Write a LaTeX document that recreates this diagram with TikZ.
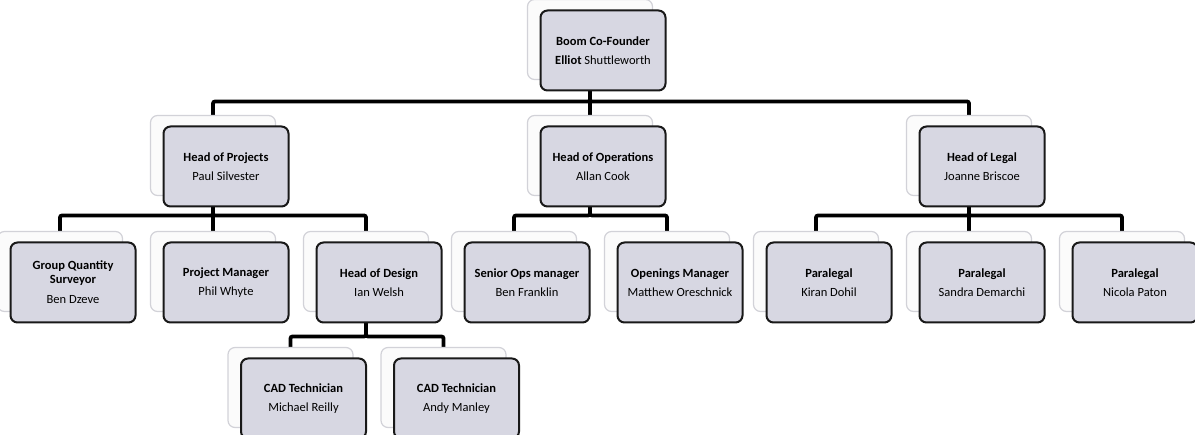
\documentclass[tikz,border=0pt]{standalone}
\usepackage{fontspec}
\setmainfont{Carlito}
\usepackage{xcolor}
\usetikzlibrary{positioning, calc, backgrounds, shadows}
\definecolor{cardfill}{RGB}{215, 215, 226}
\definecolor{cardedge}{RGB}{25, 25, 25}
\definecolor{ghostedge}{RGB}{210, 210, 216}
\definecolor{ghostfill}{RGB}{251, 251, 251}

\begin{document}
\begin{tikzpicture}[
    x=1pt, y=1pt,
    node distance=34pt and 26pt,
    card/.style={rectangle, rounded corners=7pt, draw=cardedge, line width=2pt, fill=cardfill, minimum width=125pt, minimum height=80pt, align=center, font=\fontsize{12.5}{14}\selectfont,
      copy shadow={shadow xshift=-13pt, shadow yshift=11pt, fill=ghostfill, draw=ghostedge, line width=1.2pt}},
    link/.style={line width=3.8pt, rounded corners=2pt, draw=black}
]
\useasboundingbox (0,0) rectangle (1195,-435);

% Founder
\node[card] (founder) at (603,-50.5) {\textbf{Boom Co-Founder}\\[5pt]\textbf{Elliot} Shuttleworth};

% Heads
\node[card, below=34pt of founder] (ops) {\textbf{Head of Operations}\\[5pt]Allan Cook};
\node[card, left=250pt of ops] (proj) {\textbf{Head of Projects}\\[5pt]Paul Silvester};
\node[card, right=252pt of ops] (legal) {\textbf{Head of Legal}\\[5pt]Joanne Briscoe};

% Projects team
\node[card, below=of proj] (pm) {\textbf{Project Manager}\\[5pt]Phil Whyte};
\node[card, left=of pm] (gqs) {\textbf{Group Quantity}\\\textbf{Surveyor}\\[6pt]Ben Dzeve};
\node[card, right=of pm] (design) {\textbf{Head of Design}\\[5pt]Ian Welsh};

% Operations team
\node[card, below=of ops, xshift=-76pt] (senops) {\textbf{Senior Ops manager}\\[5pt]Ben Franklin};
\node[card, right=of senops] (openings) {\textbf{Openings Manager}\\[5pt]Matthew Oreschnick};

% Legal team
\node[card, below=of legal] (para2) {\textbf{Paralegal}\\[5pt]Sandra Demarchi};
\node[card, left=of para2] (para1) {\textbf{Paralegal}\\[5pt]Kiran Dohil};
\node[card, right=of para2] (para3) {\textbf{Paralegal}\\[5pt]Nicola Paton};

% Design team
\node[card, below=of design, xshift=-75.5pt] (cad1) {\textbf{CAD Technician}\\[5pt]Michael Reilly};
\node[card, right=of cad1] (cad2) {\textbf{CAD Technician}\\[5pt]Andy Manley};

% Connectors
\begin{pgfonlayer}{background}
\foreach \p/\c/\d in {founder/proj/10, founder/ops/10, founder/legal/10,
    proj/gqs/8, proj/pm/8, proj/design/8,
    ops/senops/8, ops/openings/8,
    legal/para1/8, legal/para2/8, legal/para3/8,
    design/cad1/13, design/cad2/13}
  \draw[link] ([xshift=-13pt]\p.center) -- ([xshift=-13pt, yshift=-\d pt]\p.south) -| ([xshift=-13pt]\c.center);
\end{pgfonlayer}

\end{tikzpicture}
\end{document}
